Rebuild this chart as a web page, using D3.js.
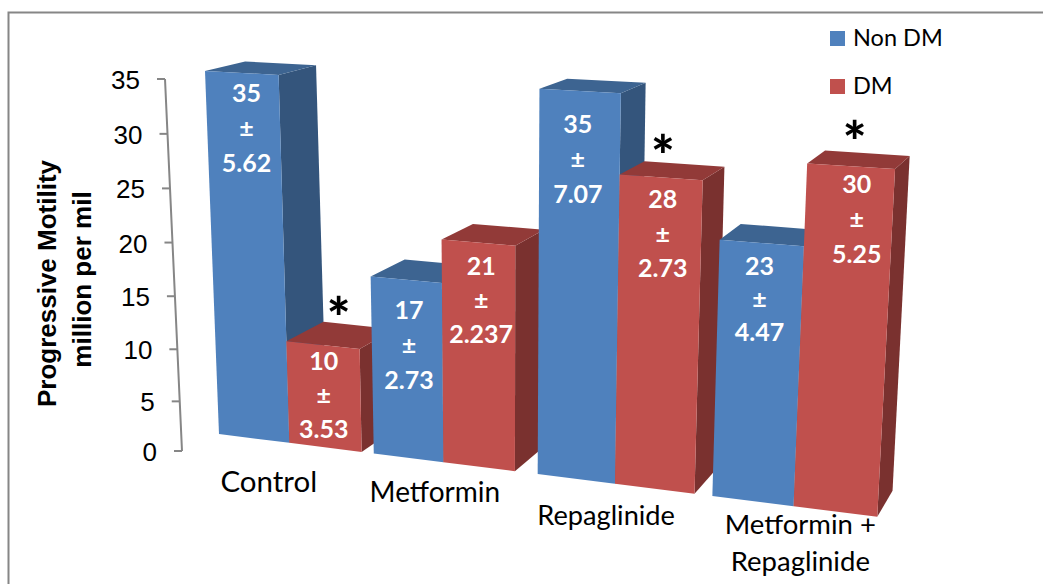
<!DOCTYPE html>
<html>
<head>
<meta charset="utf-8">
<script src="https://cdn.jsdelivr.net/npm/d3@7"></script>
<style>
  html, body { margin: 0; padding: 0; background: #fff; }
  svg { display: block; }
</style>
</head>
<body>
<svg id="chart" width="1043" height="584"></svg>
<script>
// Chart content
const categories = ["Control", "Metformin", "Repaglinide", "Metformin +\nRepaglinide"];
const seriesNames = ["Non DM", "DM"];
const nonDmValues = [35, 17, 35, 23];
const dmValues = [10, 21, 28, 30];
const nonDmErrors = ["5.62", "2.73", "7.07", "4.47"];
const dmErrors = ["3.53", "2.237", "2.73", "5.25"];
const dmSignificant = [true, false, true, true];
const valueTicks = [0, 5, 10, 15, 20, 25, 30, 35];
const axisTitleLines = ["Progressive Motility", "million per mil"];

// Layout: where each category starts along the floor and how wide its bars are, in bar widths
const categoryStarts = [0, 2.23, 4.45, 6.67];
const categoryBarWidths = [1.03, 0.96, 1, 0.985];
const floorSpan = 8.66;
const valueMax = 35;

// Pixel placement of the stacked labels on each bar's front face
const nonDmLabelDx = [5, 3, -2, -2];
const dmLabelDx = [1, 3, 2, 6];
const nonDmLabelDrop = [20, 31, 33, 23];
const dmLabelDrop = [16, 24, 22, 18];
const nonDmLineStep = [35, 35, 35, 33];
const dmLineStep = [34, 34, 34.5, 35];

// Pixel placement of the significance marks relative to the bar top
const starDx = [16, 0, 2, 4];
const starDy = [-7, 0, -1.5, -4];

// Pixel placement and size of the category labels below the floor line
const categoryLabelDx = [-21.5, -9.5, -10, 5.5];
const categoryLabelDy = [49, 40, 41, 28];
const categoryLabelSize = [29.5, 28, 27.2, 27.5];

const fillBySeries = [
  { front: "#4f81bd", top: "#3d6491", side: "#34557c" },
  { front: "#c0504d", top: "#923a38", side: "#7a312f" }
];

const svg = d3.select("#chart");
const closedPath = pts => d3.line()(pts) + "Z";

const uScale = d3.scaleLinear().domain([0, floorSpan]).range([0, 1]);
const vScale = d3.scaleLinear().domain([0, valueMax]).range([0, 1]);
const categoryScale = d3.scaleLinear().domain(d3.range(categories.length)).range(categoryStarts);

// Perspective map of the front plane, solved from its four corner points
function solvePlane(p00, p10, p11, p01) {
  const dx1 = p10[0] - p11[0], dx2 = p01[0] - p11[0], sx = p00[0] - p10[0] + p11[0] - p01[0];
  const dy1 = p10[1] - p11[1], dy2 = p01[1] - p11[1], sy = p00[1] - p10[1] + p11[1] - p01[1];
  const det = dx1 * dy2 - dx2 * dy1;
  const g = (sx * dy2 - dx2 * sy) / det;
  const h = (dx1 * sy - sx * dy1) / det;
  const a = p10[0] - p00[0] + g * p10[0];
  const b = p01[0] - p00[0] + h * p01[0];
  const d = p10[1] - p00[1] + g * p10[1];
  const e = p01[1] - p00[1] + h * p01[1];
  return (s, t) => {
    const w = g * s + h * t + 1;
    return [(a * s + b * t + p00[0]) / w, (d * s + e * t + p00[1]) / w];
  };
}
const frontPlane = solvePlane([219, 434], [879, 517], [900, 108], [205, 71]);
const front = (u, v) => frontPlane(uScale(u), vScale(v));

// Depth edges recede towards a vanishing point up and to the right
const vanish = [1290, -185];
const depthShare = 0.037;
const back = p => [
  p[0] + depthShare * (vanish[0] - p[0]),
  p[1] + depthShare * (vanish[1] - p[1])
];

// Frame, open along the bottom
svg.append("path")
  .attr("d", d3.line()([[8.5, 584], [8.5, 12.5], [1043, 12.5]]))
  .attr("fill", "none")
  .attr("stroke", "#868686")
  .attr("stroke-width", 2);

// Slanted value axis
const axisY = d3.scalePow().exponent(1.035).domain([0, valueMax]).range([451, 79]);
const axisX = d3.scaleLinear().domain([451, 79]).range([182, 165]);
const axisG = svg.append("g");
axisG.append("path")
  .attr("d", d3.line()(valueTicks.map(v => [axisX(axisY(v)), axisY(v)])))
  .attr("fill", "none")
  .attr("stroke", "#868686")
  .attr("stroke-width", 2);
axisG.selectAll("line.tick").data(valueTicks).join("line")
  .attr("class", "tick")
  .attr("x1", v => axisX(axisY(v)) - 8)
  .attr("x2", v => axisX(axisY(v)))
  .attr("y1", v => axisY(v))
  .attr("y2", v => axisY(v))
  .attr("stroke", "#868686")
  .attr("stroke-width", 2);
axisG.selectAll("text").data(valueTicks).join("text")
  .attr("x", v => axisX(axisY(v)) - 25)
  .attr("y", v => axisY(v) + 1)
  .attr("dy", "0.35em")
  .attr("text-anchor", "end")
  .attr("font-family", "'Liberation Sans', Arial, sans-serif")
  .attr("font-size", 26)
  .attr("fill", "#000")
  .text(d => d);

// Axis title, two rotated lines
const axisTitlePlace = [[56, 283.5], [91, 279.5]];
svg.selectAll("text.axis-title").data(axisTitleLines).join("text")
  .attr("class", "axis-title")
  .attr("transform", (d, i) => `translate(${axisTitlePlace[i][0]},${axisTitlePlace[i][1]}) rotate(-90)`)
  .attr("text-anchor", "middle")
  .attr("font-family", "'Liberation Sans', Arial, sans-serif")
  .attr("font-weight", "bold")
  .attr("font-size", 26)
  .attr("fill", "#000")
  .text(d => d);

// One record per bar, in painting order from left to right
const bars = categories.flatMap((c, i) => [
  { series: 0, cat: i, value: nonDmValues[i], err: nonDmErrors[i], dx: nonDmLabelDx[i], drop: nonDmLabelDrop[i], step: nonDmLineStep[i], star: false },
  { series: 1, cat: i, value: dmValues[i], err: dmErrors[i], dx: dmLabelDx[i], drop: dmLabelDrop[i], step: dmLineStep[i], star: dmSignificant[i] }
]);

const barG = svg.selectAll("g.bar").data(bars).join("g").attr("class", "bar");
bars.forEach(b => {
  const width = categoryBarWidths[b.cat];
  b.u0 = categoryScale(b.cat) + b.series * width;
  b.u1 = b.u0 + width;
  b.fl = front(b.u0, 0);
  b.fr = front(b.u1, 0);
  b.tl = front(b.u0, b.value);
  b.tr = front(b.u1, b.value);
});
barG.append("path")
  .attr("d", b => closedPath([b.tr, back(b.tr), back(b.fr), b.fr]))
  .attr("fill", b => fillBySeries[b.series].side);
barG.append("path")
  .attr("d", b => closedPath([b.tl, b.tr, back(b.tr), back(b.tl)]))
  .attr("fill", b => fillBySeries[b.series].top);
barG.append("path")
  .attr("d", b => closedPath([b.fl, b.fr, b.tr, b.tl]))
  .attr("fill", b => fillBySeries[b.series].front);

// Mean, plus-minus sign and error, stacked on each bar's front face
const labelFont = "Lato, Carlito, 'Open Sans', sans-serif";
barG.each(function (b) {
  const g = d3.select(this);
  const mid = front((b.u0 + b.u1) / 2, b.value);
  const lines = [b.value, "±", b.err];
  g.selectAll("text.value").data(lines).join("text")
    .attr("class", "value")
    .attr("x", mid[0] + b.dx)
    .attr("y", (d, i) => mid[1] + b.drop + i * b.step)
    .attr("dy", "0.35em")
    .attr("text-anchor", "middle")
    .attr("font-family", labelFont)
    .attr("font-weight", "bold")
    .attr("font-size", 25)
    .attr("fill", "#fff")
    .text(d => d);
  if (b.star) {
    g.append("text")
      .attr("x", mid[0] + starDx[b.cat])
      .attr("y", mid[1] + starDy[b.cat])
      .attr("text-anchor", "middle")
      .attr("font-family", labelFont)
      .attr("font-weight", "900")
      .attr("font-size", 56)
      .attr("fill", "#000")
      .text("*");
  }
});

// Category labels sit below the floor line of each group
const labelG = svg.selectAll("g.category").data(categories).join("g").attr("class", "category");
labelG.each(function (c, i) {
  const left = front(categoryScale(i), 0);
  const right = front(categoryScale(i) + 2 * categoryBarWidths[i], 0);
  const lines = c.split("\n");
  d3.select(this).selectAll("text").data(lines).join("text")
    .attr("x", (left[0] + right[0]) / 2 + categoryLabelDx[i])
    .attr("y", (d, k) => (left[1] + right[1]) / 2 + categoryLabelDy[i] + k * 37)
    .attr("text-anchor", "middle")
    .attr("font-family", labelFont)
    .attr("font-size", categoryLabelSize[i])
    .attr("fill", "#000")
    .text(d => d);
});

// Legend
const legendG = svg.selectAll("g.legend").data(seriesNames).join("g")
  .attr("class", "legend")
  .attr("transform", (d, i) => `translate(830,${31 + i * 48})`);
legendG.append("rect")
  .attr("width", 15)
  .attr("height", 15)
  .attr("fill", (d, i) => fillBySeries[i].front);
legendG.append("text")
  .attr("x", 23)
  .attr("y", 6.5)
  .attr("dy", "0.35em")
  .attr("font-family", labelFont)
  .attr("font-size", 23.5)
  .attr("fill", "#000")
  .text(d => d);
</script>
</body>
</html>
